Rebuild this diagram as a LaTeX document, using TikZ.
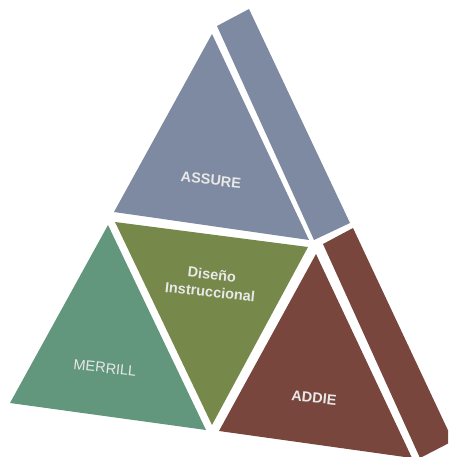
\documentclass[tikz,border=0pt]{standalone}
\usepackage{fontspec}
\setmainfont{Liberation Sans}
\begin{document}
\begin{tikzpicture}[x=1pt,y=-1pt,
  facelabel/.style={text=labelgray,font=\fontsize{14.5}{17.5}\selectfont\bfseries,rotate=-6,align=center,inner sep=0pt},
  plainlabel/.style={facelabel,font=\fontsize{14.5}{17.5}\selectfont}]
\definecolor{assureblue}{HTML}{7E8AA1}
\definecolor{designgreen}{HTML}{76894B}
\definecolor{merrillgreen}{HTML}{62977D}
\definecolor{addiebrown}{HTML}{79463D}
\definecolor{labelgray}{HTML}{E8E8E8}
\useasboundingbox (0,0) rectangle (448,457);
\clip (0,0) rectangle (448,457);
% top face and its side slab
\fill[assureblue] (212,34) -- (114,212) -- (309,240) -- cycle;
\fill[assureblue] (217,26) -- (249,9) -- (350,223) -- (314,240) -- cycle;
% central inverted face
\fill[designgreen] (115,222) -- (308,247) -- (212,425) -- cycle;
% lower left face
\fill[merrillgreen] (108,225) -- (10,403) -- (206,430) -- cycle;
% lower right face and its side slab
\fill[addiebrown] (316,254) -- (219,431) -- (412,458) -- cycle;
\fill[addiebrown] (323,244) -- (353,228) -- (453,441) -- (420,458) -- cycle;
% labels
\node[facelabel] (assure) at (211,180) {ASSURE};
\node[facelabel] (design) at (211,283) {Diseño\\Instruccional};
\node[plainlabel] (merrill) at (105,368) {MERRILL};
\node[facelabel] (addie) at (314,398) {ADDIE};
\end{tikzpicture}
\end{document}
